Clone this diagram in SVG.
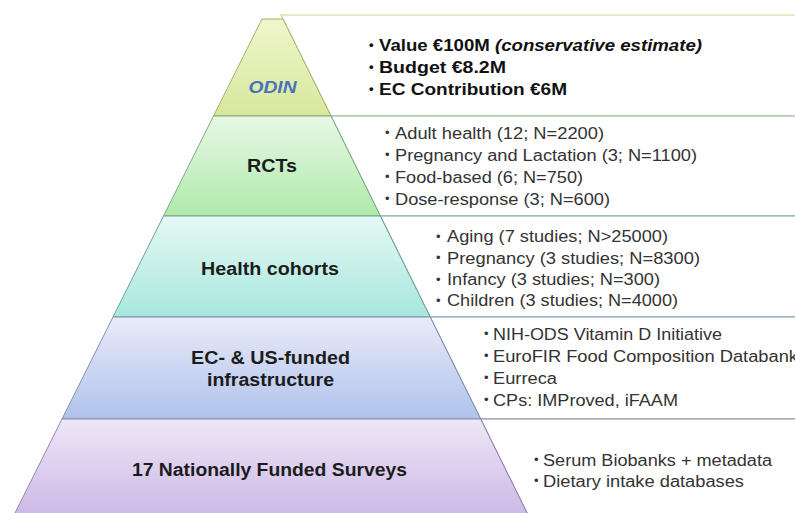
<svg xmlns="http://www.w3.org/2000/svg" width="795" height="513" viewBox="0 0 795 513">
<defs>
<linearGradient id="gOdin" x1="0" y1="0" x2="0" y2="1"><stop offset="0" stop-color="#f0f6cc"/><stop offset="1" stop-color="#d6e89c"/></linearGradient>
<linearGradient id="gRct" x1="0" y1="0" x2="0" y2="1"><stop offset="0" stop-color="#e8f8e6"/><stop offset="1" stop-color="#aeeaaa"/></linearGradient>
<linearGradient id="gHealth" x1="0" y1="0" x2="0" y2="1"><stop offset="0" stop-color="#e6f8f5"/><stop offset="1" stop-color="#a6e8dc"/></linearGradient>
<linearGradient id="gEc" x1="0" y1="0" x2="0" y2="1"><stop offset="0" stop-color="#e9ebf8"/><stop offset="1" stop-color="#b0c2ec"/></linearGradient>
<linearGradient id="gSurv" x1="0" y1="0" x2="0" y2="1"><stop offset="0" stop-color="#eee7f6"/><stop offset="1" stop-color="#cbb6e6"/></linearGradient>
</defs>
<style>
.box{fill:#ffffff;stroke-width:1.2}
.tier{stroke-width:1}
.lbl{font-family:"Liberation Sans",Arial,sans-serif;font-weight:bold;fill:#1c1c1c;text-anchor:middle}
.bt{font-family:"Liberation Sans",Arial,sans-serif;font-weight:bold;font-size:16px;fill:#111111}
.it{font-family:"Liberation Sans",Arial,sans-serif;font-size:16px;fill:#333333}
.bul{font-family:"Liberation Sans",Arial,sans-serif;font-size:13px;fill:#333333}
</style>
<rect width="795" height="513" fill="#ffffff"/>

<g id="odin">
<polygon class="box" points="281,15 800,15 800,116 331,116" stroke="#cbd88e"/>
<polygon class="tier" points="262,19 283,19 331,116 213.5,116" fill="url(#gOdin)" stroke="#9fb06a"/>
<text class="lbl" x="272.5" y="93" font-size="16" font-style="italic" style="fill:#4a72b8" textLength="48" lengthAdjust="spacingAndGlyphs">ODIN</text>
<text class="bul" x="369" y="49" style="font-weight:bold;fill:#111">•</text>
<text class="bt" x="379" y="50.5" textLength="323" lengthAdjust="spacingAndGlyphs">Value €100M <tspan font-style="italic">(conservative estimate)</tspan></text>
<text class="bul" x="369" y="71" style="font-weight:bold;fill:#111">•</text>
<text class="bt" x="379" y="72.5" textLength="127" lengthAdjust="spacingAndGlyphs">Budget €8.2M</text>
<text class="bul" x="369" y="93" style="font-weight:bold;fill:#111">•</text>
<text class="bt" x="379" y="94.5" textLength="188" lengthAdjust="spacingAndGlyphs">EC Contribution €6M</text>
</g>

<g id="rcts">
<polygon class="box" points="331,116 800,116 800,216 380.3,216" stroke="#86b294"/>
<polygon class="tier" points="213.5,116 331,116 380.3,216 163.5,216" fill="url(#gRct)" stroke="#7ea886"/>
<text class="lbl" x="272" y="172" font-size="18" textLength="50" lengthAdjust="spacingAndGlyphs">RCTs</text>
<text class="bul" x="385" y="137">•</text>
<text class="it" x="395" y="138.5" textLength="209" lengthAdjust="spacingAndGlyphs">Adult health (12; N=2200)</text>
<text class="bul" x="385" y="159">•</text>
<text class="it" x="395" y="160.5" textLength="302" lengthAdjust="spacingAndGlyphs">Pregnancy and Lactation (3; N=1100)</text>
<text class="bul" x="385" y="181">•</text>
<text class="it" x="395" y="182.5" textLength="188" lengthAdjust="spacingAndGlyphs">Food-based (6; N=750)</text>
<text class="bul" x="385" y="203">•</text>
<text class="it" x="395" y="204.5" textLength="215" lengthAdjust="spacingAndGlyphs">Dose-response (3; N=600)</text>
</g>

<g id="health">
<polygon class="box" points="380.3,216 800,216 800,317 430.2,317" stroke="#78a6a4"/>
<polygon class="tier" points="163.5,216 380.3,216 430.2,317 113,317" fill="url(#gHealth)" stroke="#6e9e98"/>
<text class="lbl" x="270" y="274.5" font-size="18" textLength="138" lengthAdjust="spacingAndGlyphs">Health cohorts</text>
<text class="bul" x="436" y="240.5">•</text>
<text class="it" x="447" y="242" textLength="221" lengthAdjust="spacingAndGlyphs">Aging (7 studies; N&gt;25000)</text>
<text class="bul" x="436" y="262">•</text>
<text class="it" x="447" y="263.5" textLength="253" lengthAdjust="spacingAndGlyphs">Pregnancy (3 studies; N=8300)</text>
<text class="bul" x="436" y="283.5">•</text>
<text class="it" x="447" y="285" textLength="213" lengthAdjust="spacingAndGlyphs">Infancy (3 studies; N=300)</text>
<text class="bul" x="436" y="304.5">•</text>
<text class="it" x="447" y="306" textLength="231" lengthAdjust="spacingAndGlyphs">Children (3 studies; N=4000)</text>
</g>

<g id="infrastructure">
<polygon class="box" points="430.2,317 800,317 800,419 480.6,419" stroke="#8492b2"/>
<polygon class="tier" points="113,317 430.2,317 480.6,419 62,419" fill="url(#gEc)" stroke="#8090b0"/>
<text class="lbl" x="270.5" y="363.5" font-size="18" textLength="159" lengthAdjust="spacingAndGlyphs">EC- &amp; US-funded</text>
<text class="lbl" x="270.5" y="386" font-size="18" textLength="127" lengthAdjust="spacingAndGlyphs">infrastructure</text>
<text class="bul" x="484" y="338">•</text>
<text class="it" x="493" y="339.5" textLength="229" lengthAdjust="spacingAndGlyphs">NIH-ODS Vitamin D Initiative</text>
<text class="bul" x="484" y="360">•</text>
<text class="it" x="493" y="361.5" textLength="305" lengthAdjust="spacingAndGlyphs">EuroFIR Food Composition Databank</text>
<text class="bul" x="484" y="382">•</text>
<text class="it" x="493" y="383.5" textLength="64" lengthAdjust="spacingAndGlyphs">Eurreca</text>
<text class="bul" x="484" y="404">•</text>
<text class="it" x="493" y="405.5" textLength="185" lengthAdjust="spacingAndGlyphs">CPs: IMProved, iFAAM</text>
</g>

<g id="surveys">
<polygon class="box" points="480.6,419 800,419 800,520 530.5,520" stroke="#9486aa"/>
<polygon class="tier" points="62,419 480.6,419 530.5,520 11.5,520" fill="url(#gSurv)" stroke="#9484ac"/>
<text class="lbl" x="269.5" y="476" font-size="18" textLength="275" lengthAdjust="spacingAndGlyphs">17 Nationally Funded Surveys</text>
<text class="bul" x="534" y="464">•</text>
<text class="it" x="543" y="465.5" textLength="229" lengthAdjust="spacingAndGlyphs">Serum Biobanks + metadata</text>
<text class="bul" x="534" y="485">•</text>
<text class="it" x="543" y="486.5" textLength="201" lengthAdjust="spacingAndGlyphs">Dietary intake databases</text>
</g>
</svg>
